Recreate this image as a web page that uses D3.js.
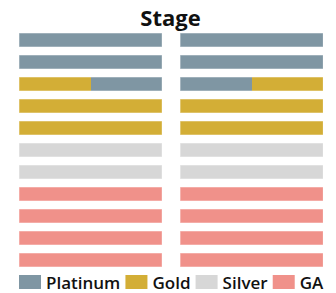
<!DOCTYPE html>
<html>
<head>
<meta charset="utf-8">
<script src="https://cdn.jsdelivr.net/npm/d3@7"></script>
<style>
  body { margin: 0; background: #fff; }
  text { font-family: "Open Sans", sans-serif; }
</style>
</head>
<body>
<svg id="chart" width="336" height="293"></svg>
<script>
// seating tiers and colours
var tiers = ["Platinum", "Gold", "Silver", "GA"];
var tierColors = ["#7f96a3", "#d3ae36", "#d7d7d7", "#f0918a"];

var sections = ["left", "right"];
var rows = [1, 2, 3, 4, 5, 6, 7, 8, 9, 10, 11];

// two blocks per row in each section
var leftSeats = [
  ["Platinum", "Platinum"],
  ["Platinum", "Platinum"],
  ["Gold", "Platinum"],
  ["Gold", "Gold"],
  ["Gold", "Gold"],
  ["Silver", "Silver"],
  ["Silver", "Silver"],
  ["GA", "GA"],
  ["GA", "GA"],
  ["GA", "GA"],
  ["GA", "GA"]
];
var rightSeats = [
  ["Platinum", "Platinum"],
  ["Platinum", "Platinum"],
  ["Platinum", "Gold"],
  ["Gold", "Gold"],
  ["Gold", "Gold"],
  ["Silver", "Silver"],
  ["Silver", "Silver"],
  ["GA", "GA"],
  ["GA", "GA"],
  ["GA", "GA"],
  ["GA", "GA"]
];

var svg = d3.select("#chart");

var color = d3.scaleOrdinal().domain(tiers).range(tierColors);

var x = d3.scaleBand().domain(sections).range([19, 323.3]).paddingInner(0.1116);
var seat = d3.scaleBand().domain([0, 1]).range([0, x.bandwidth()]);
var y = d3.scaleBand().domain(rows).range([33, 267]).paddingInner(8 / 22);

var cells = [];
sections.forEach(function(s) {
  var src = s === "left" ? leftSeats : rightSeats;
  rows.forEach(function(r, i) {
    src[i].forEach(function(t, j) {
      cells.push({ section: s, row: r, seat: j, tier: t });
    });
  });
});

svg.append("text")
  .attr("x", 170.5)
  .attr("y", 26)
  .attr("text-anchor", "middle")
  .attr("font-size", 22)
  .attr("font-weight", 700)
  .attr("fill", "#111")
  .text("Stage");

svg.append("g")
  .attr("shape-rendering", "crispEdges")
  .selectAll("rect")
  .data(cells)
  .enter().append("rect")
  .attr("x", function(d) { return x(d.section) + seat(d.seat); })
  .attr("y", function(d) { return y(d.row); })
  .attr("width", seat.bandwidth())
  .attr("height", y.bandwidth())
  .attr("fill", function(d) { return color(d.tier); });

// faint outline round each row
svg.append("g")
  .selectAll("rect")
  .data(d3.cross(sections, rows))
  .enter().append("rect")
  .attr("x", function(d) { return x(d[0]); })
  .attr("y", function(d) { return y(d[1]); })
  .attr("width", x.bandwidth())
  .attr("height", y.bandwidth())
  .attr("fill", "none")
  .attr("stroke", "#fff")
  .attr("stroke-opacity", 0.5)
  .attr("stroke-width", 1);

// legend, spread out across the chart width
var legend = svg.append("g").attr("transform", "translate(0,275)");
var items = legend.selectAll("g")
  .data(tiers)
  .enter().append("g");

items.append("rect")
  .attr("width", 22)
  .attr("height", 14)
  .attr("fill", function(d) { return color(d); });

items.append("text")
  .attr("x", 27)
  .attr("y", 14)
  .attr("font-size", 17)
  .attr("font-weight", 600)
  .attr("fill", "#111")
  .text(function(d) { return d; });

var widths = [];
items.each(function() {
  widths.push(27 + d3.select(this).select("text").node().getComputedTextLength());
});
var total = d3.sum(widths);
var gap = (323.3 - 19 - total) / (tiers.length - 1);
var pos = 19;
items.attr("transform", function(d, i) {
  var t = "translate(" + pos + ",0)";
  pos += widths[i] + gap;
  return t;
});
</script>
</body>
</html>
